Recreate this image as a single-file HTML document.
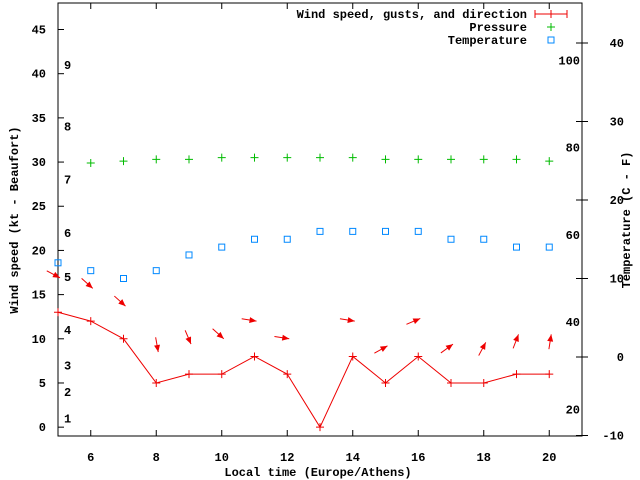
<!DOCTYPE html>
<html><head><meta charset="utf-8"><style>
html,body{margin:0;padding:0;background:#fff;}
svg{display:block;font-family:"Liberation Mono",monospace;font-weight:bold;font-size:12px;}
</style></head><body>
<svg id="chart" width="640" height="480" xmlns="http://www.w3.org/2000/svg">
<rect x="0" y="0" width="640" height="480" fill="#fff"/>
<g id="axes"></g><g id="marks"></g>
<text transform="translate(18,220) rotate(-90)" text-anchor="middle">Wind speed (kt - Beaufort)</text>
<text transform="translate(630,220) rotate(-90)" text-anchor="middle">Temperature (C - F)</text>
<text x="318" y="476" text-anchor="middle">Local time (Europe/Athens)</text>
<g>
<text x="527" y="18" text-anchor="end">Wind speed, gusts, and direction</text>
<line x1="535" y1="14" x2="567" y2="14" stroke="#e00" stroke-width="1"/><line x1="535" y1="10" x2="535" y2="18" stroke="#e00"/><line x1="567" y1="10" x2="567" y2="18" stroke="#e00"/><line x1="551" y1="10" x2="551" y2="18" stroke="#e00"/>
<text x="527" y="31" text-anchor="end">Pressure</text>
<path d="M547 27h8M551 23v8" stroke="#0b0" fill="none"/>
<text x="527" y="44" text-anchor="end">Temperature</text>
<rect x="548" y="37" width="6" height="6" stroke="#08f" fill="none"/>
</g>
</svg>
<script>
const hours=[5,6,7,8,9,10,11,12,13,14,15,16,17,18,19,20];
const wind=[13,12,10,5,6,6,8,6,0,8,5,8,5,5,6,6];
const gust=[16.9,15.7,13.7,8.5,9.4,10,12,10,null,12,9.2,12.3,9.4,9.6,10.5,10.5];
const heading=[118,132,132,170,157,132,99,99,null,99,61,67,54,28,21,9];
const pHours=[6,7,8,9,10,11,12,13,14,15,16,17,18,19,20];
const pressure=[29.9,30.1,30.3,30.3,30.5,30.5,30.5,30.5,30.5,30.3,30.3,30.3,30.3,30.3,30.1];
const temp=[12,11,10,11,13,14,15,15,16,16,16,16,15,15,14,14];
const xTicks=[6,8,10,12,14,16,18,20];
const yTicks=[0,5,10,15,20,25,30,35,40,45];
const y2Ticks=[-10,0,10,20,30,40];
const fTicks=[20,40,60,80,100];
const bftLabels=[1,2,3,4,5,6,7,8,9];
const bftKt=[1,4,7,11,17,22,28,34,41];
const L=58,R=582,T=3,B=436;
const X=h=>L+(h-5)/(21-5)*(R-L);
const Y=v=>B-(v+1)/(48+1)*(B-T);
const Y2=c=>357-c*7.85;
const NS="http://www.w3.org/2000/svg";
const ax=document.getElementById('axes'),mk=document.getElementById('marks');
function el(p,t,a){const e=document.createElementNS(NS,t);for(const k in a)e.setAttribute(k,a[k]);p.appendChild(e);return e;}
const fr=el(ax,'rect',{x:L,y:T,width:R-L,height:B-T,fill:'none',stroke:'#000'});


xTicks.forEach(h=>{const x=X(h);
 el(ax,'path',{d:`M${x} ${B}v-6M${x} ${T}v6`,stroke:'#000'});
 const t=el(ax,'text',{x:x,y:B+25,'text-anchor':'middle'});t.textContent=h;
 
 });
yTicks.forEach(v=>{const y=Y(v);
 el(ax,'path',{d:`M${L} ${y}h6`,stroke:'#000'});
 const t=el(ax,'text',{x:L-12,y:y+4,'text-anchor':'end'});t.textContent=v;
 
 });
y2Ticks.forEach(c=>{const y=Y2(c);
 el(ax,'path',{d:`M${R-6} ${y}h12`,stroke:'#000'});
 const t=el(ax,'text',{x:624,y:y+4,'text-anchor':'end'});t.textContent=c;
 
 });
fTicks.forEach(f=>{const y=Y2((f-32)*5/9);
 const t=el(ax,'text',{x:580,y:y+4,'text-anchor':'end'});t.textContent=f;
 
 });
bftLabels.forEach((b,i)=>{const t=el(ax,'text',{x:64,y:Y(bftKt[i])+4});t.textContent=b;
 
 });
// wind line
const pts=hours.map((h,i)=>`${X(h)},${Y(wind[i])}`).join(' ');
const pl=el(mk,'polyline',{points:pts,fill:'none',stroke:'#e00'});


hours.forEach((h,i)=>{const x=X(h),y=Y(wind[i]);
 const p=el(mk,'path',{d:`M${x-4} ${y}h8M${x} ${y-4}v8`,stroke:'#e00'});
 
 
 if(gust[i]!==null){const tx=X(h)+2,ty=Y(gust[i]);const a=heading[i]*Math.PI/180;
  const dx=Math.sin(a),dy=-Math.cos(a);const len=15;
  const g=el(mk,'g',{});
  
  
  el(g,'line',{x1:tx-dx*len,y1:ty-dy*len,x2:tx,y2:ty,stroke:'#e00'});
  const bx=tx-dx*7,by=ty-dy*7,px=-dy*3,py=dx*3;
  el(g,'polygon',{points:`${tx},${ty} ${bx+px},${by+py} ${bx-px},${by-py}`,fill:'#e00'});}
});
pHours.forEach((h,i)=>{const x=X(h),y=Y(pressure[i]);
 const p=el(mk,'path',{d:`M${x-4} ${y}h8M${x} ${y-4}v8`,stroke:'#0b0'});
 
 });
hours.forEach((h,i)=>{const x=X(h),y=Y2(temp[i]);
 const r=el(mk,'rect',{x:x-3,y:y-3,width:6,height:6,fill:'none',stroke:'#08f'});
 
 });
</script>
</body></html>
